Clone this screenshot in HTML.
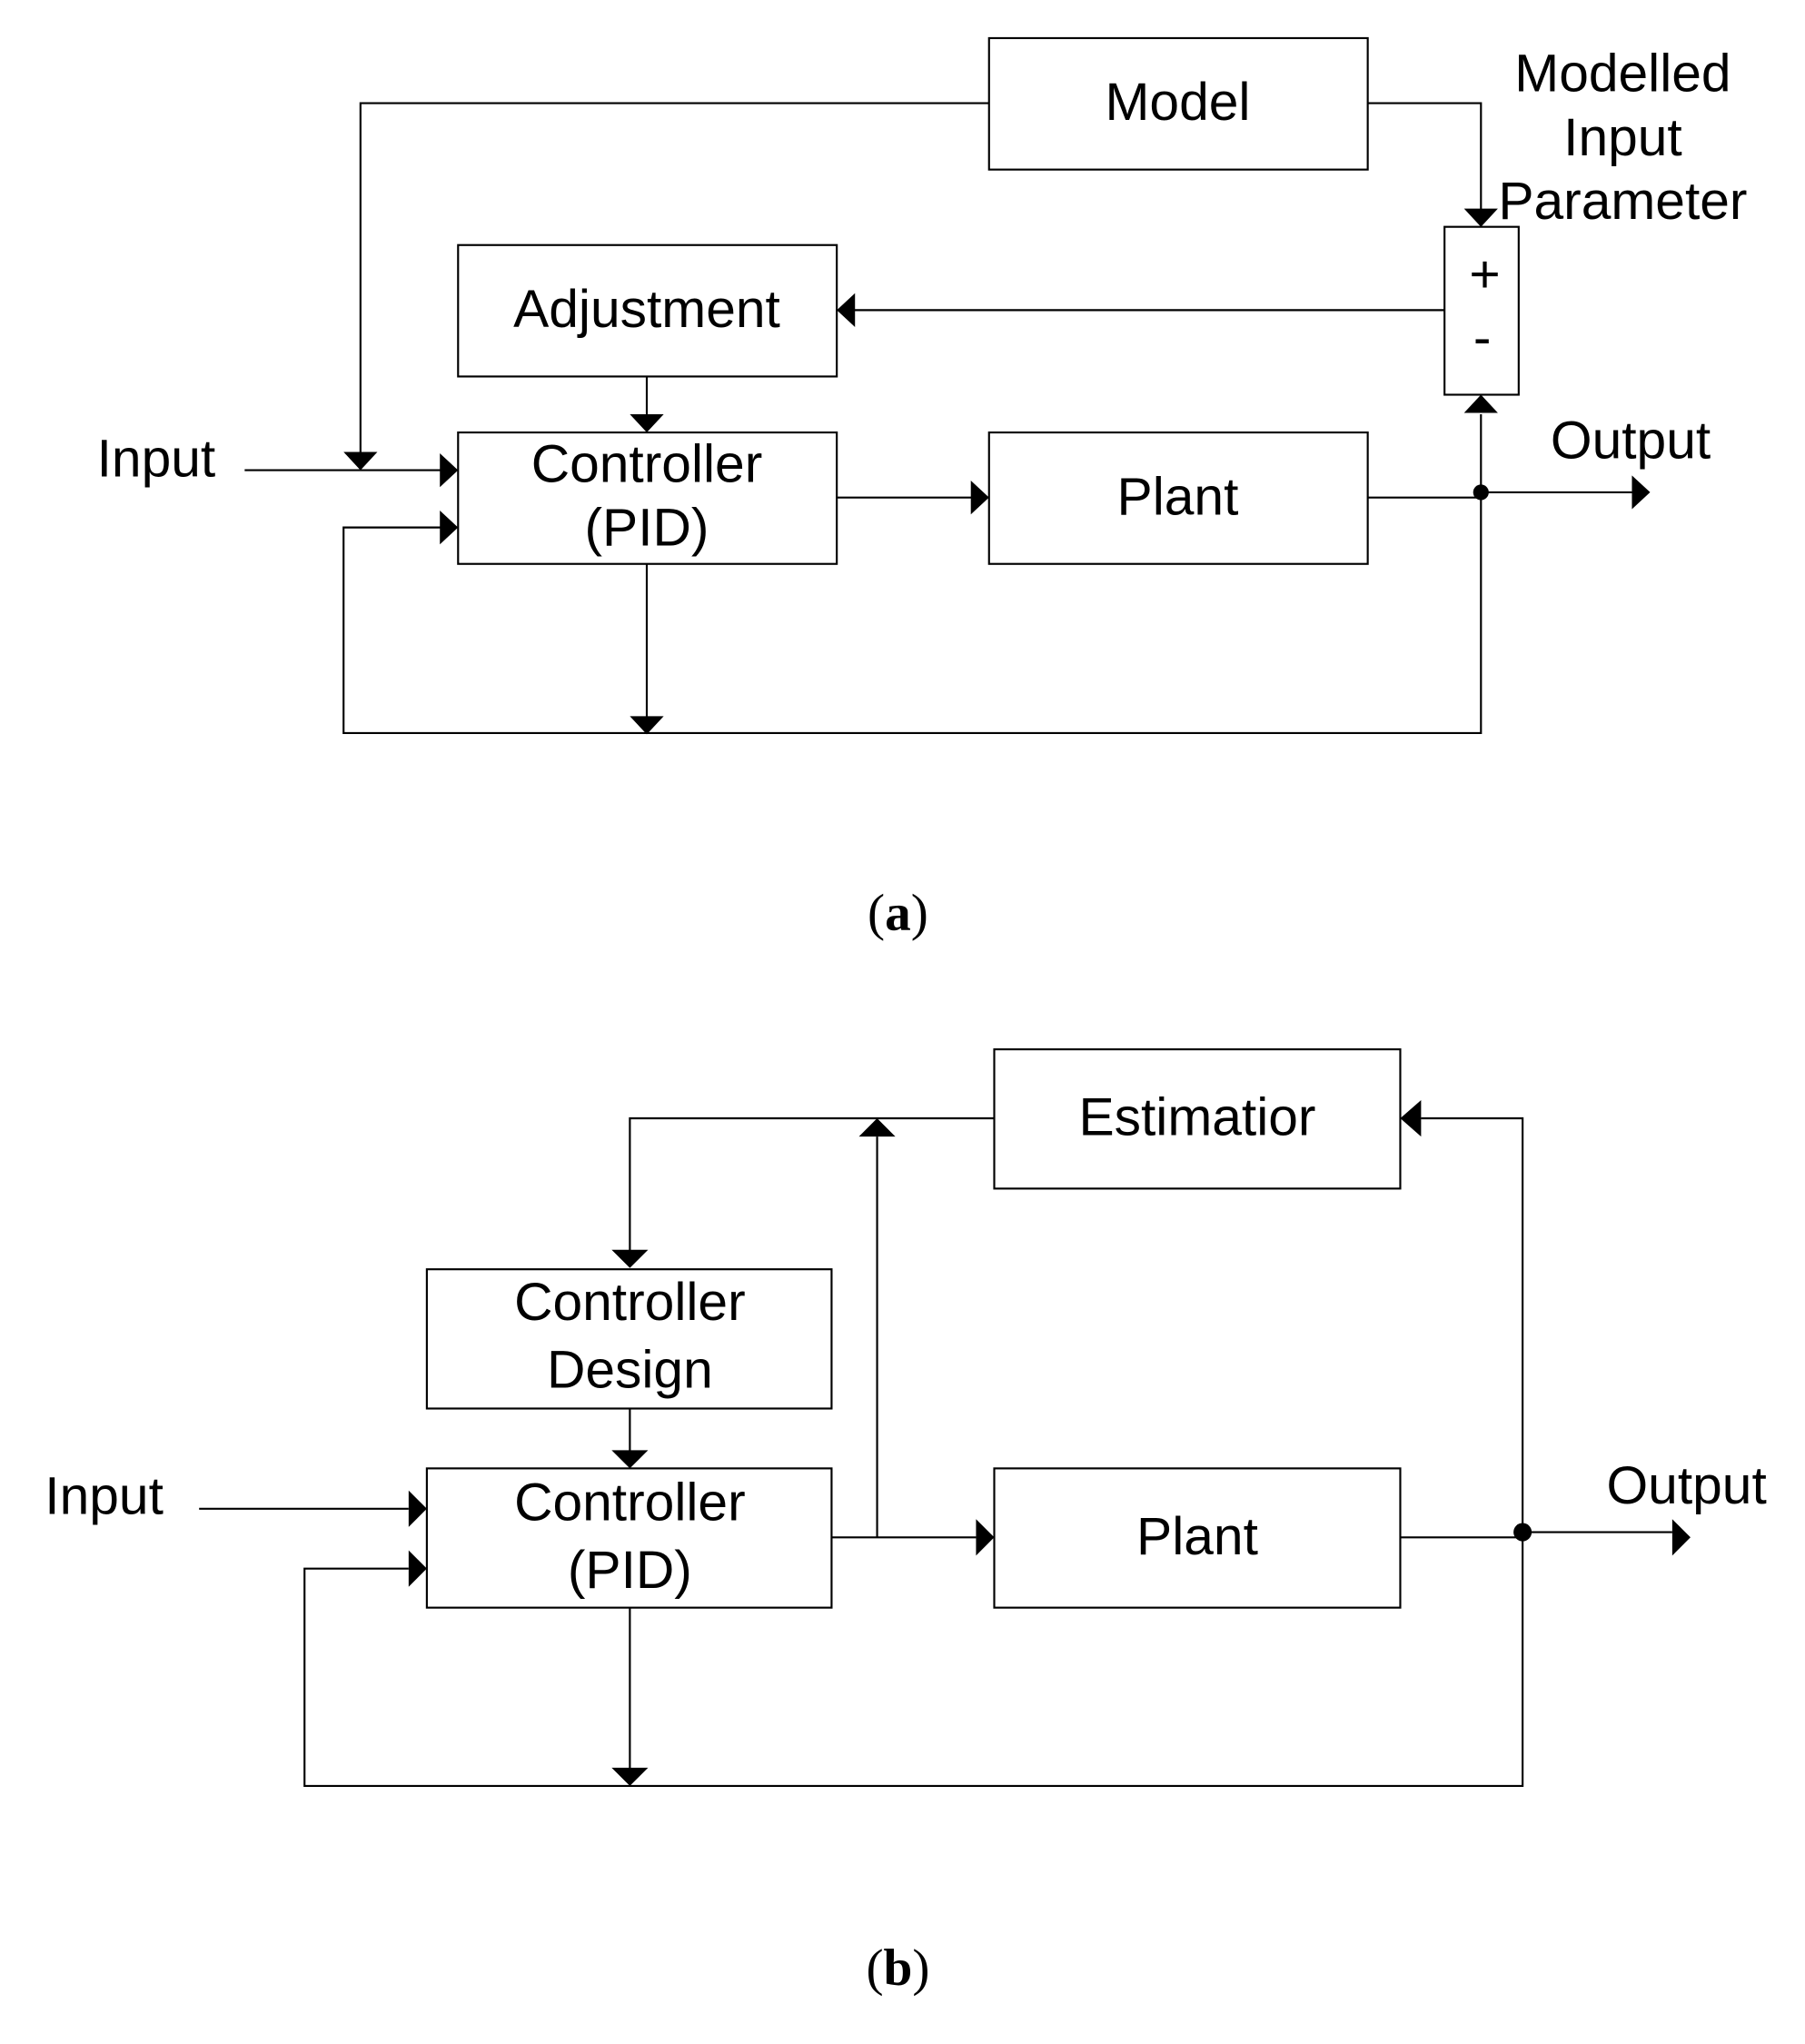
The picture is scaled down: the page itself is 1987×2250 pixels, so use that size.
<!DOCTYPE html>
<html><head><style>html,body{margin:0;padding:0;background:#fff}svg{display:block}</style></head>
<body>
<svg width="1987" height="2250" viewBox="0 0 1387 1570" xmlns="http://www.w3.org/2000/svg" font-family="Liberation Sans, Arial, sans-serif">
<g fill="none" stroke="#000" stroke-width="1.5">
<rect x="760" y="29" width="291" height="101"/>
<rect x="352" y="188" width="291" height="101"/>
<rect x="352" y="332" width="291" height="101"/>
<rect x="760" y="332" width="291" height="101"/>
<rect x="1110" y="174" width="57" height="129"/>
<polyline points="760,79 277,79 277,352"/>
<polyline points="1051,79 1138,79 1138,164"/>
<line x1="1110" y1="238" x2="655" y2="238"/>
<line x1="497" y1="289" x2="497" y2="320"/>
<line x1="188" y1="361" x2="340" y2="361"/>
<polyline points="340,405 264,405 264,563 1138,563 1138,318"/>
<line x1="643" y1="382" x2="748" y2="382"/>
<line x1="1051" y1="382" x2="1138" y2="382"/>
<line x1="1138" y1="378" x2="1254" y2="378"/>
<line x1="497" y1="433" x2="497" y2="551"/>
<rect x="764" y="806" width="312" height="107"/>
<rect x="328" y="975" width="311" height="107"/>
<rect x="328" y="1128" width="311" height="107"/>
<rect x="764" y="1128" width="312" height="107"/>
<polyline points="764,859 484,859 484,962"/>
<line x1="484" y1="1082" x2="484" y2="1115"/>
<line x1="153" y1="1159" x2="314" y2="1159"/>
<polyline points="314,1205 234,1205 234,1372 1170,1372 1170,859 1092,859"/>
<line x1="639" y1="1181" x2="750" y2="1181"/>
<line x1="674" y1="1181" x2="674" y2="873"/>
<line x1="1076" y1="1181" x2="1170" y2="1181"/>
<line x1="1170" y1="1177" x2="1285" y2="1177"/>
<line x1="484" y1="1235" x2="484" y2="1359"/>
</g>
<g fill="#000">
<polygon points="264,347 290,347 277,361"/>
<polygon points="1125,160 1151,160 1138,174"/>
<polygon points="643,238 657,225 657,251"/>
<polygon points="484,318 510,318 497,332"/>
<polygon points="352,361 338,348 338,374"/>
<polygon points="352,405 338,392 338,418"/>
<polygon points="760,382 746,369 746,395"/>
<polygon points="1138,303 1125,317 1151,317"/>
<polygon points="1268,378 1254,365 1254,391"/>
<polygon points="484,550 510,550 497,564"/>
<circle cx="1138" cy="378" r="6"/>
<polygon points="470,960 498,960 484,974"/>
<polygon points="470,1114 498,1114 484,1128"/>
<polygon points="328,1159 314,1145 314,1173"/>
<polygon points="328,1205 314,1191 314,1219"/>
<polygon points="764,1181 750,1167 750,1195"/>
<polygon points="674,859 660,873 688,873"/>
<polygon points="1076,859 1092,845 1092,873"/>
<polygon points="1299,1181 1285,1167 1285,1195"/>
<polygon points="470,1358 498,1358 484,1372"/>
<circle cx="1170" cy="1177" r="7"/>
</g>
<g font-size="41" text-anchor="middle" fill="#000">
<text x="905" y="92">Model</text>
<text x="1247" y="70">Modelled</text>
<text x="1247" y="119">Input</text>
<text x="1247" y="168">Parameter</text>
<text x="497" y="251">Adjustment</text>
<text x="1141" y="224">+</text>
<text x="1139" y="273">-</text>
<text x="120" y="366">Input</text>
<text x="497" y="370">Controller</text>
<text x="497" y="419">(PID)</text>
<text x="905" y="395">Plant</text>
<text x="1253" y="352">Output</text>
<text x="920" y="872">Estimatior</text>
<text x="484" y="1014">Controller</text>
<text x="484" y="1066">Design</text>
<text x="80" y="1163">Input</text>
<text x="484" y="1168">Controller</text>
<text x="484" y="1220">(PID)</text>
<text x="920" y="1194">Plant</text>
<text x="1296" y="1155">Output</text>
</g>
<g font-family="Liberation Serif, serif" font-size="40" text-anchor="middle" fill="#000">
<text x="690" y="714">(<tspan font-weight="bold">a</tspan>)</text>
<text x="690" y="1525">(<tspan font-weight="bold">b</tspan>)</text>
</g>
</svg>
</body></html>
